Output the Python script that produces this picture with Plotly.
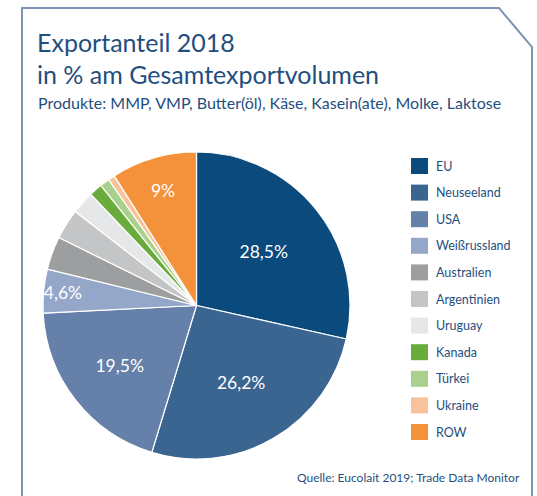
import plotly.graph_objects as go

# Export shares 2018 (% of total export volume)
countries = ["EU", "Neuseeland", "USA", "Weißrussland", "Australien", "Argentinien",
             "Uruguay", "Kanada", "Türkei", "Ukraine", "ROW"]
shares = [28.5, 26.2, 19.5, 4.6, 3.5, 3.2, 2.4, 1.4, 1.0, 0.7, 9.0]
colors = ["#0b4a7d", "#3a6591", "#6580a9", "#95a7c8", "#9d9ea0", "#c4c5c7",
          "#e6e7e8", "#6aac3b", "#a9d08c", "#f8c39b", "#f4923b"]
labelled = {"EU", "Neuseeland", "USA", "Weißrussland", "ROW"}

W, H = 537, 496
BLUE = "#1f4f7e"
FONT = "Lato"


def fmt(v):
    s = f"{v:.1f}".rstrip("0").rstrip(".")
    return s.replace(".", ",") + "%"


slice_text = [fmt(v) if c in labelled else "" for c, v in zip(countries, shares)]

fig = go.Figure()
fig.add_trace(go.Pie(
    labels=countries,
    values=shares,
    text=slice_text,
    textinfo="text",
    textposition="inside",
    insidetextorientation="horizontal",
    textfont=dict(family=FONT, size=17.5, color="white"),
    marker=dict(colors=colors, line=dict(color="white", width=1.2)),
    sort=False,
    direction="clockwise",
    rotation=0,
    showlegend=False,
    hoverinfo="label+percent",
    domain=dict(x=[43 / W, 350 / W], y=[1 - 459 / H, 1 - 152 / H]),
))


def px(x):
    return x / W


def py(y):
    return 1 - y / H


shapes = []
annotations = []

# Frame with clipped upper-right corner
frame = (f"M {px(22)} {py(500)} L {px(22)} {py(8)} L {px(499)} {py(8)} "
         f"L {px(532)} {py(47)} L {px(532)} {py(500)}")
shapes.append(dict(type="path", xref="paper", yref="paper", path=frame,
                   line=dict(color="#7f93b7", width=2)))

# Legend: colour squares and country names
row0, step = 166, 26.6
for i, (name, col) in enumerate(zip(countries, colors)):
    yc = row0 + i * step
    shapes.append(dict(type="rect", xref="paper", yref="paper",
                       x0=px(411), x1=px(428), y0=py(yc + 8), y1=py(yc - 8),
                       fillcolor=col, line=dict(width=0)))
    annotations.append(dict(x=px(434), y=py(yc), xref="paper", yref="paper",
                            text=name, showarrow=False, xanchor="left", yanchor="middle",
                            font=dict(family=FONT, size=12.5, color=BLUE)))

# Titles and source
annotations += [
    dict(x=px(35), y=py(42), xref="paper", yref="paper", text="Exportanteil 2018",
         showarrow=False, xanchor="left", yanchor="middle",
         font=dict(family=FONT, size=25, color=BLUE)),
    dict(x=px(35), y=py(74), xref="paper", yref="paper", text="in % am Gesamtexportvolumen",
         showarrow=False, xanchor="left", yanchor="middle",
         font=dict(family=FONT, size=25, color=BLUE)),
    dict(x=px(36), y=py(102), xref="paper", yref="paper",
         text="Produkte: MMP, VMP, Butter(öl), Käse, Kasein(ate), Molke, Laktose",
         showarrow=False, xanchor="left", yanchor="middle",
         font=dict(family=FONT, size=16, color=BLUE)),
    dict(x=px(522), y=py(477), xref="paper", yref="paper",
         text="Quelle: Eucolait 2019; Trade Data Monitor",
         showarrow=False, xanchor="right", yanchor="middle",
         font=dict(family=FONT, size=12, color=BLUE)),
]

fig.update_layout(
    width=W, height=H,
    margin=dict(l=0, r=0, t=0, b=0),
    paper_bgcolor="white",
    plot_bgcolor="white",
    uniformtext=dict(minsize=17.5, mode="show"),
    shapes=shapes,
    annotations=annotations,
)

fig.write_html("out.html")
